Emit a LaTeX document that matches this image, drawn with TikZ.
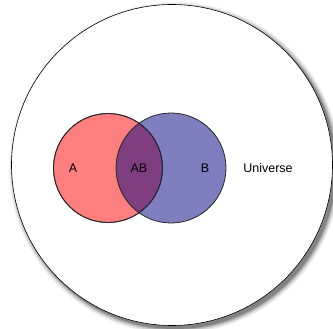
\documentclass[tikz,border=0pt]{standalone}
\usepackage{fontspec}
\setmainfont{Liberation Sans}
\begin{document}
\begin{tikzpicture}[x=1pt,y=-1pt,
  setcircle/.style={draw=black!85,line width=0.8pt,fill opacity=0.5},
  lbl/.style={font=\fontsize{12.5}{14}\selectfont,inner sep=0pt}]
\useasboundingbox (0,0) rectangle (333,329);
% shadow of universe
\foreach \r/\o in {166/0.04,165/0.06,164/0.08,163/0.1,162/0.14,161/0.2}
  \fill[black,opacity=\o] (175,168) circle (\r);
\fill[white] (172,165) circle (160.5);
\node[draw=black,line width=0.6pt,circle,minimum size=321pt,inner sep=0pt] (U) at (172,165) {};
% sets
\node[setcircle,fill=red,circle,minimum size=109pt,inner sep=0pt] (A) at (108,168) {};
\node[setcircle,fill=blue!50!black,circle,minimum size=110pt,inner sep=0pt] (B) at (171,168) {};
\draw[black!85,line width=0.8pt] (108,168) circle (54.5);
\node[lbl] (la) at (73,168) {A};
\node[lbl] (lab) at (139,168) {AB};
\node[lbl] (lb) at (205,168) {B};
\node[lbl] (lu) at (268,168) {Universe};
\end{tikzpicture}
\end{document}
